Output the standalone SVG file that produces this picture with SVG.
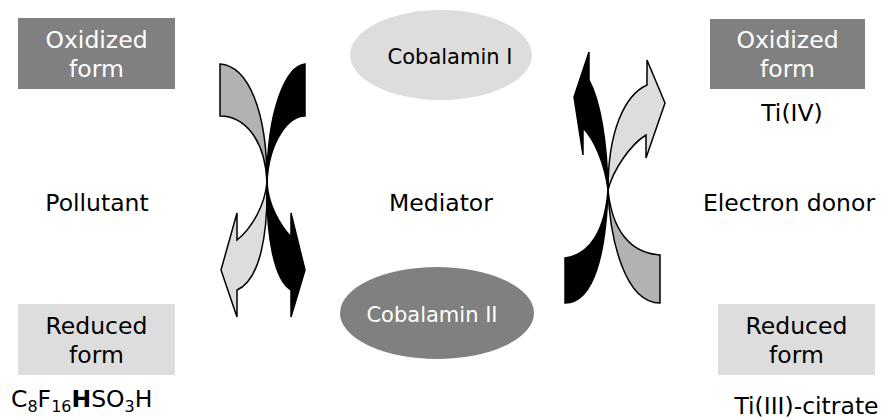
<svg xmlns="http://www.w3.org/2000/svg" width="894" height="420" viewBox="0 0 894 420">
<style>
text{font-family:"DejaVu Sans",Verdana,sans-serif;font-size:23.5px;fill:#000;text-anchor:middle}
.w{fill:#fff}
.ell{font-size:21px}
.dk{fill:#808080}
.lt{fill:#dddddd}
.arr path{stroke:#000;stroke-width:1.5;stroke-linejoin:miter}
.g1{fill:#b2b2b2}
.g2{fill:#dddddd}
.bk{fill:#000}
.sub{font-size:16px}
</style>
<rect width="894" height="420" fill="#fff"/>
<g id="pollutant-oxidized">
<rect class="dk" x="18" y="18" width="157" height="71"/>
<text class="w" x="96.5" y="48">Oxidized</text>
<text class="w" x="96.5" y="77">form</text>
</g>
<g id="pollutant-reduced">
<rect class="lt" x="18" y="304" width="157" height="71"/>
<text x="96.5" y="334">Reduced</text>
<text x="96.5" y="363">form</text>
<text x="11" y="407" style="text-anchor:start">C<tspan class="sub" dy="5">8</tspan><tspan dy="-5">F</tspan><tspan class="sub" dy="5">16</tspan><tspan dy="-5" font-weight="bold">H</tspan><tspan>SO</tspan><tspan class="sub" dy="5">3</tspan><tspan dy="-5">H</tspan></text>
</g>
<g id="pollutant">
<text x="97" y="211">Pollutant</text>
</g>
<g id="cobalamin-1">
<ellipse class="lt" cx="441" cy="55" rx="91" ry="45"/>
<text class="ell" x="450" y="64">Cobalamin I</text>
</g>
<g id="mediator">
<text x="441" y="211">Mediator</text>
</g>
<g id="cobalamin-2">
<ellipse class="dk" cx="437" cy="313" rx="97" ry="46"/>
<text class="ell w" x="432" y="322">Cobalamin II</text>
</g>
<g id="donor-oxidized">
<rect class="dk" x="710" y="19" width="155" height="70"/>
<text class="w" x="787.5" y="48">Oxidized</text>
<text class="w" x="787.5" y="77">form</text>
<text x="792" y="121">Ti(IV)</text>
</g>
<g id="electron-donor">
<text x="789" y="211">Electron donor</text>
</g>
<g id="donor-reduced">
<rect class="lt" x="718" y="304" width="157" height="71"/>
<text x="796.5" y="334">Reduced</text>
<text x="796.5" y="363">form</text>
<text x="806.5" y="414">Ti(III)-citrate</text>
</g>
<g id="connectors" class="arr">
<path class="g1" d="M220,64 C248,66 267,110 267,182 C265,140 245,116 220,116 Z"/>
<path class="bk" d="M305,64 C286,66 267,110 267,182 C269,140 289,116 305,116 Z"/>
<path class="g2" d="M267,182 C268,235 260,280 237,290 L237,317 L221,270 L237,213 L237,240 C252,228 265,205 267,182 Z"/>
<path class="bk" d="M267,182 C266,235 274,280 291,290 L291,317 L305,270 L291,213 L291,237 C280,225 268,205 267,182 Z"/>
<path class="g2" d="M608,190 C608,130 625,95 647,85 L647,60 L665,103 L646,158 L646,135 C630,145 613,170 608,190 Z"/>
<path class="bk" d="M608,190 C607,140 600,100 589,80 L589,52 L574,97 L583,155 L583,128 C595,140 605,165 608,190 Z"/>
<path class="g1" d="M608,190 C610,240 625,303 660,303 L660,255 C630,253 612,230 608,190 Z"/>
<path class="bk" d="M608,190 C606,250 595,303 565,303 L565,258 C590,255 605,230 608,190 Z"/>
</g>
</svg>
